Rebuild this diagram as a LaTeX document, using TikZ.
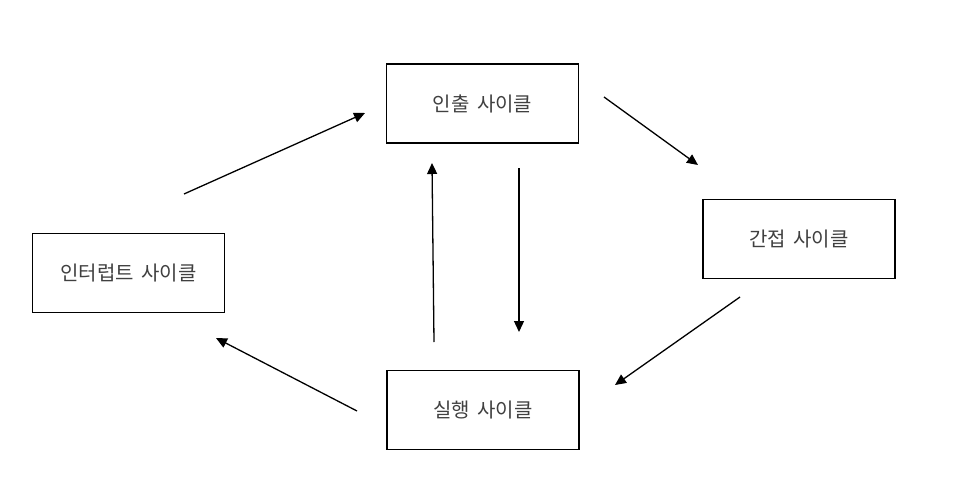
\documentclass[tikz,border=0pt]{standalone}
\usepackage{fontspec}
\setmainfont{Noto Sans CJK KR}
\usetikzlibrary{arrows.meta}
\definecolor{txtgray}{HTML}{404040}
\tikzset{
  cyclebox/.style={draw=black, line width=1.4pt, minimum width=192pt, minimum height=79pt,
    inner sep=0pt, text=txtgray, font=\fontsize{20}{22}\selectfont},
  flow/.style={draw=black, line width=1.3pt, -{Triangle[length=11pt,width=10pt]}}
}
\begin{document}
\begin{tikzpicture}[x=1pt,y=-1pt]
\useasboundingbox (0,0) rectangle (966,500);
\node[cyclebox] (fetch) at (482.5,103.5) {인출\hspace{0.15em} 사이클};
\node[cyclebox] (indirect) at (799,239) {간접\hspace{0.15em} 사이클};
\node[cyclebox] (interrupt) at (128.5,273) {인터럽트\hspace{0.15em} 사이클};
\node[cyclebox] (execute) at (483,410) {실행\hspace{0.15em} 사이클};
% arrow end points
\coordinate (a1s) at (184,194); \coordinate (a1e) at (365,113);
\coordinate (a2s) at (604,97);  \coordinate (a2e) at (698,165);
\coordinate (a3s) at (740,297); \coordinate (a3e) at (615,385);
\coordinate (a4s) at (357,411); \coordinate (a4e) at (216,338);
\coordinate (a5s) at (434,342); \coordinate (a5e) at (432,163);
\coordinate (a6s) at (519,168); \coordinate (a6e) at (519,332);
\draw[flow] (a1s) -- (a1e);
\draw[flow] (a2s) -- (a2e);
\draw[flow] (a3s) -- (a3e);
\draw[flow] (a4s) -- (a4e);
\draw[flow] (a5s) -- (a5e);
\draw[flow] (a6s) -- (a6e);
\end{tikzpicture}
\end{document}
